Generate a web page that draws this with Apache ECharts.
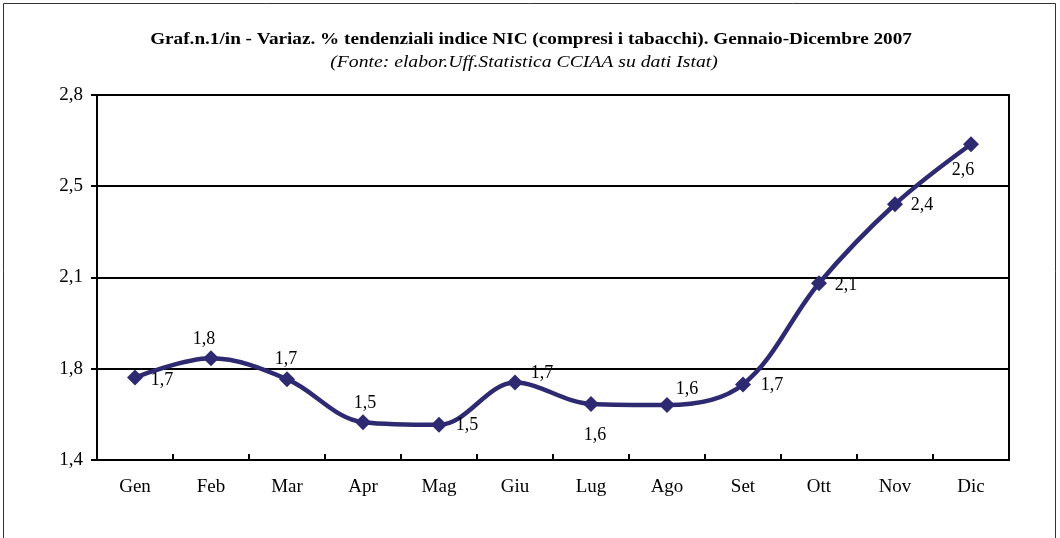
<!DOCTYPE html>
<html>
<head>
<meta charset="utf-8">
<script src="https://cdn.jsdelivr.net/npm/echarts@6/dist/echarts.min.js"></script>
<style>
html,body{margin:0;padding:0;background:#fff;}
#c{width:1060px;height:538px;}
</style>
</head>
<body>
<div id="c"></div>
<script>
const titleText = 'Graf.n.1/in - Variaz. % tendenziali indice NIC (compresi i tabacchi). Gennaio-Dicembre 2007';
const subtitleText = '(Fonte: elabor.Uff.Statistica CCIAA su dati Istat)';
const categories = ['Gen','Feb','Mar','Apr','Mag','Giu','Lug','Ago','Set','Ott','Nov','Dic'];
const values = [1.716, 1.79, 1.71, 1.545, 1.535, 1.697, 1.615, 1.611, 1.69, 2.078, 2.381, 2.611];
const yTickLabels = ['1,4','1,8','2,1','2,5','2,8'];
const yMin = 1.4, yMax = 2.8, yStep = 0.35;
// label placement (offset of label centre from marker centre, px)
const labelOffsets = [[27,3],[-7,-19],[-1,-20],[2,-19],[28,0],[27,-9],[4,31],[20,-16],[29,1],[27,2],[27,1],[-8,26]];

const FONT = '"Liberation Serif","Times New Roman",serif';
const chart = echarts.init(document.getElementById('c'), null, {renderer:'canvas'});
chart.setOption({
  animation:false,
  backgroundColor:'#fff',
  graphic:[
    {type:'rect',shape:{x:3.5,y:3.5,width:1052,height:600},style:{fill:null,stroke:'#333',lineWidth:1},silent:true,z:-1},
    {type:'text',x:531,y:40,scaleX:1.2,silent:true,
      style:{text:titleText,font:'bold 16px '+FONT,fill:'#000',textAlign:'center',textVerticalAlign:'middle'}},
    {type:'text',x:524,y:62.5,scaleX:1.23,silent:true,
      style:{text:subtitleText,font:'italic 16px '+FONT,fill:'#000',textAlign:'center',textVerticalAlign:'middle'}}
  ],
  grid:{left:97,right:51,top:95,bottom:78,show:true,borderColor:'#000',borderWidth:2,backgroundColor:'transparent'},
  xAxis:{
    type:'category',data:categories,boundaryGap:true,
    axisLine:{lineStyle:{color:'#000',width:2}},
    axisTick:{show:true,inside:true,length:6,lineStyle:{color:'#000',width:2}},
    axisLabel:{fontFamily:FONT,fontSize:19,color:'#000',margin:18}
  },
  yAxis:{
    type:'value',min:yMin,max:yMax,interval:yStep,
    axisLine:{show:true,lineStyle:{color:'#000',width:2}},
    axisTick:{show:true,length:6,lineStyle:{color:'#000',width:2}},
    splitLine:{show:true,lineStyle:{color:'#000',width:2}},
    axisLabel:{fontFamily:FONT,fontSize:19,color:'#000',margin:14,
      formatter:function(v){return yTickLabels[Math.round((v-yMin)/yStep)];}}
  },
  series:[{
    type:'line',smooth:0.35,
    data:values.map(function(v,i){return {value:v,label:{offset:labelOffsets[i]}};}),
    symbol:'diamond',symbolSize:16,
    lineStyle:{color:'#2e2a72',width:4.5},
    itemStyle:{color:'#2e2a72'},
    label:{show:true,position:'inside',color:'#000',fontFamily:FONT,fontSize:18,textBorderWidth:0,
      formatter:function(p){return p.value.toFixed(1).replace('.',',');}}
  }]
});
</script>
</body>
</html>
